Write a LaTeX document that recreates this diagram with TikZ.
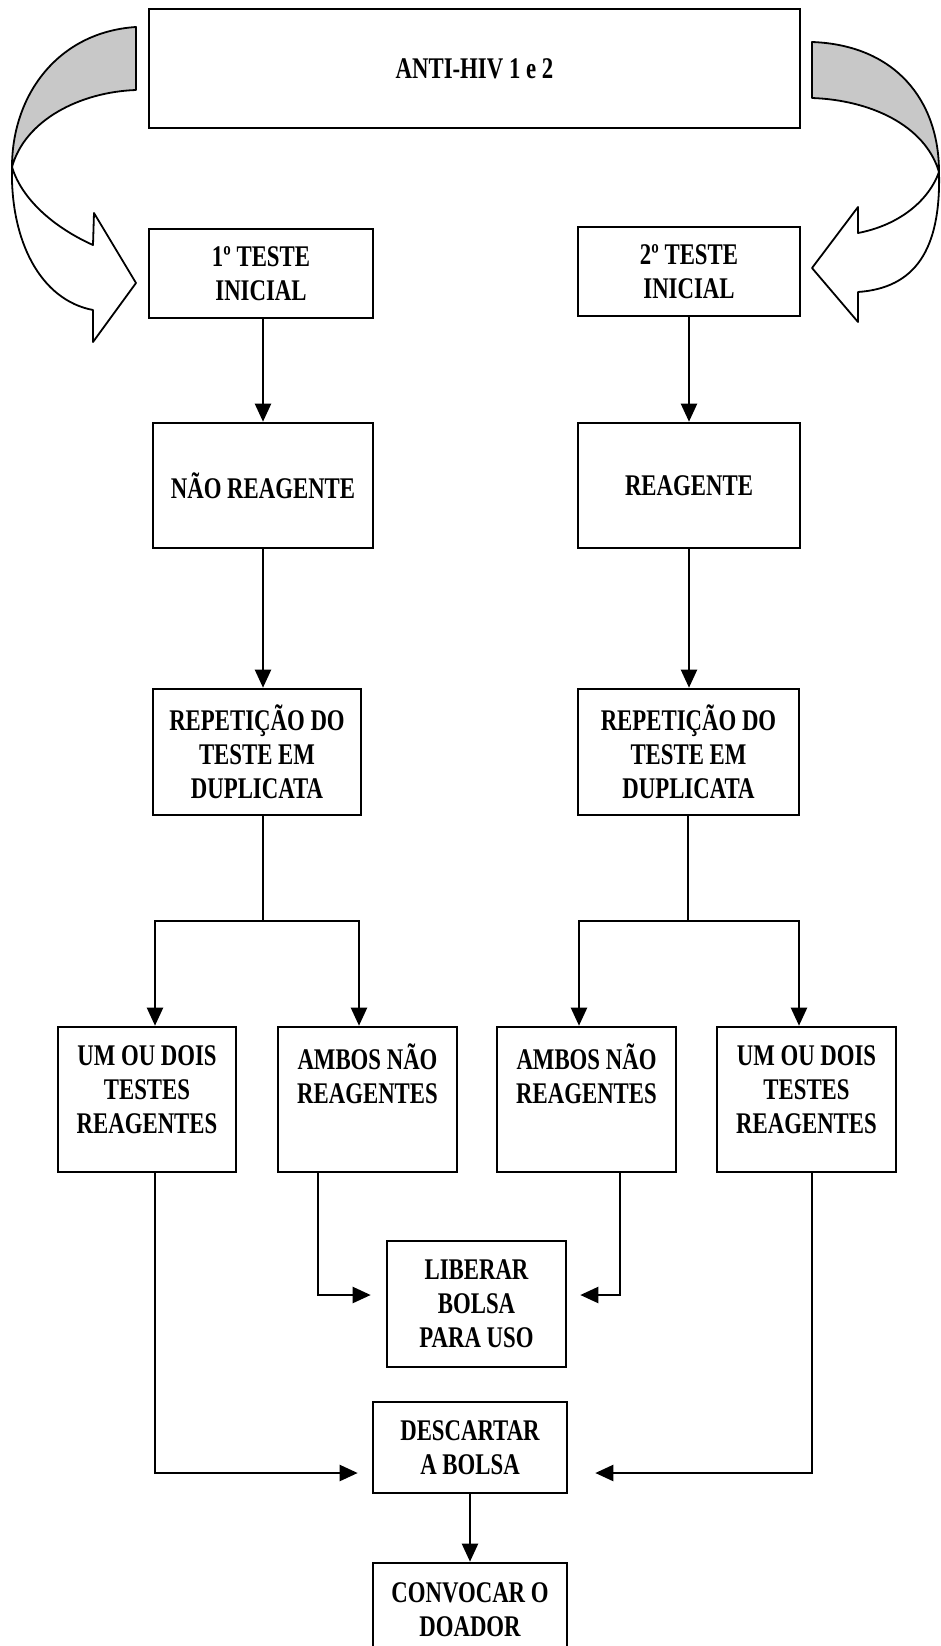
\documentclass[tikz,border=0pt]{standalone}
\usepackage{fontspec}
\setmainfont{Liberation Serif}[FakeStretch=0.76]
\usetikzlibrary{arrows.meta}
\definecolor{bandgray}{RGB}{200,200,200}
\begin{document}
\begin{tikzpicture}[x=1pt,y=-1pt,
  txt/.style={align=center,inner sep=0pt,font=\bfseries\fontsize{30}{34}\selectfont},
  box/.style={draw,line width=2.6pt,inner sep=0pt,txt},
  conn/.style={line width=2.2pt},
  arr/.style={conn,-{Triangle[width=16pt,length=18pt]}},
  curv/.style={draw,line width=1.8pt,line join=round}]
\useasboundingbox (0,0) rectangle (941,1646);
\clip (0,0) rectangle (941,1646);
% curved arrows
\path[curv,fill=bandgray] (136,27) .. controls (58,32) and (12,95) .. (12,167)
  .. controls (25,120) and (80,92) .. (136,90) -- cycle;
\path[curv,fill=white] (12,167) .. controls (10,240) and (40,300) .. (93,310)
  -- (93,342) -- (136,283) -- (94,213) -- (93,245)
  .. controls (55,228) and (22,200) .. (12,167) -- cycle;
\path[curv,fill=bandgray] (812,42) .. controls (895,45) and (939,100) .. (939,172)
  .. controls (925,125) and (870,100) .. (812,98) -- cycle;
\path[curv,fill=white] (939,172) .. controls (941,250) and (915,288) .. (858,292)
  -- (858,322) -- (812,268) -- (858,207) -- (858,233)
  .. controls (900,225) and (929,200) .. (939,172) -- cycle;
% boxes
\node[box,minimum width=651pt,minimum height=119pt] (top) at (474.5,68.5) {ANTI-HIV 1 e 2};
\node[box,minimum width=224pt,minimum height=89pt] (t1) at (261,273.5) {1º TESTE\\INICIAL};
\node[box,minimum width=222pt,minimum height=89pt] (t2) at (689,271.5) {2º TESTE\\INICIAL};
\node[box,minimum width=220pt,minimum height=125pt] (nao) at (263,485.5) {NÃO REAGENTE};
\node[box,minimum width=222pt,minimum height=125pt] (rea) at (689,485.5) {REAGENTE};
\node[box,minimum width=208pt,minimum height=126pt] (rep1) at (257,752) {REPETIÇÃO DO\\TESTE EM\\DUPLICATA};
\node[box,minimum width=221pt,minimum height=126pt] (rep2) at (688.5,752) {REPETIÇÃO DO\\TESTE EM\\DUPLICATA};
\node[box,minimum width=178pt,minimum height=145pt,
  label={[txt,yshift=9.5pt]center:{UM OU DOIS\\TESTES\\REAGENTES}}] (um1) at (147,1099.5) {};
\node[box,minimum width=179pt,minimum height=145pt,
  label={[txt,yshift=26pt]center:{AMBOS NÃO\\REAGENTES}}] (amb1) at (367.5,1099.5) {};
\node[box,minimum width=179pt,minimum height=145pt,
  label={[txt,yshift=26pt]center:{AMBOS NÃO\\REAGENTES}}] (amb2) at (586.5,1099.5) {};
\node[box,minimum width=179pt,minimum height=145pt,
  label={[txt,yshift=9.5pt]center:{UM OU DOIS\\TESTES\\REAGENTES}}] (um2) at (806.5,1099.5) {};
\node[box,minimum width=179pt,minimum height=126pt] (lib) at (476.5,1304) {LIBERAR\\BOLSA\\PARA USO};
\node[box,minimum width=194pt,minimum height=91pt] (desc) at (470,1447.5) {DESCARTAR\\A BOLSA};
\node[box,minimum width=194pt,minimum height=94pt] (conv) at (470,1610) {CONVOCAR O\\DOADOR};
% junction coordinates
\coordinate (j1) at (263,921);
\coordinate (j1l) at (155,921);
\coordinate (j1r) at (359,921);
\coordinate (j2) at (688,921);
\coordinate (j2l) at (579,921);
\coordinate (j2r) at (799,921);
\coordinate (k1) at (318,1295);
\coordinate (k2) at (620,1295);
\coordinate (k3) at (155,1473);
\coordinate (k4) at (812,1473);
% connectors
\draw[arr] (t1.south -| nao.north) -- (nao.north);
\draw[arr] (nao.south) -- (nao.south |- rep1.north);
\draw[arr] (t2.south) -- (rea.north);
\draw[arr] (rea.south) -- (rea.south |- rep2.north);
\draw[conn] (rep1.south -| j1) -- (j1);
\draw[arr] (j1) -- (j1l) -- (j1l |- um1.north);
\draw[arr] (j1) -- (j1r) -- (j1r |- amb1.north);
\draw[conn] (rep2.south -| j2) -- (j2);
\draw[arr] (j2) -- (j2l) -- (j2l |- amb2.north);
\draw[arr] (j2) -- (j2r) -- (j2r |- um2.north);
\draw[arr,shorten >=15pt] (amb1.south -| k1) -- (k1) -- (k1 -| lib.west);
\draw[arr,shorten >=13pt] (amb2.south -| k2) -- (k2) -- (k2 -| lib.east);
\draw[arr,shorten >=14pt] (um1.south -| k3) -- (k3) -- (k3 -| desc.west);
\draw[arr,shorten >=27pt] (um2.south -| k4) -- (k4) -- (k4 -| desc.east);
\draw[arr] (desc.south) -- (conv.north);
\end{tikzpicture}
\end{document}
